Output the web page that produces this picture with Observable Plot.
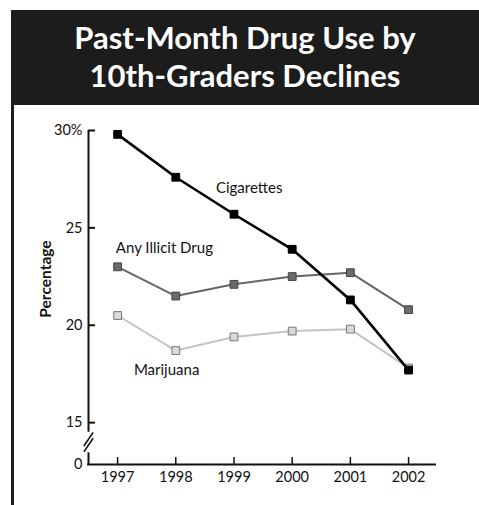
<!DOCTYPE html>
<html><head><meta charset="utf-8">
<script src="https://cdn.jsdelivr.net/npm/d3@7"></script>
<script src="https://cdn.jsdelivr.net/npm/@observablehq/plot@0.6"></script>
<style>
body{margin:0;background:#fff;width:479px;height:505px;position:relative;overflow:hidden;font-family:Lato,sans-serif}
#title{position:absolute;left:11px;top:10px;width:468px;height:95px;background:#1c1c1c;color:#fff;font:700 31px/38px Lato,sans-serif;text-align:center;box-sizing:border-box;padding-top:8px}
#frame{position:absolute;left:11px;top:105px;width:3px;height:400px;background:#1c1c1c}
#chart{position:absolute;left:0;top:105px}
#ylabel{position:absolute;left:45px;top:279px;transform:translate(-50%,-50%) rotate(-90deg);font:700 15.5px Lato,sans-serif;color:#111;white-space:nowrap}
</style></head><body>
<div id="title">Past-Month Drug Use by<br>10th-Graders Declines</div>
<div id="chart"></div><div id="frame"></div>
<div id="ylabel">Percentage</div>
<script>
const years = [1997, 1998, 1999, 2000, 2001, 2002];
const cigarettes = [29.8, 27.6, 25.7, 23.9, 21.3, 17.7];
const illicit = [23.0, 21.5, 22.1, 22.5, 22.7, 20.8];
const marijuana = [20.5, 18.7, 19.4, 19.7, 19.8, 17.8];
const yTicks = [15, 20, 25, 30];
const yTickLabels = ["15", "20", "25", "30%"];
const seriesNames = ["Cigarettes", "Any Illicit Drug", "Marijuana"];

const yBase = 12.85;      // value shown at the "0" (broken axis bottom)
const xStart = 1996.5;
const xEnd = 2002.48;

const rows = (vals) => years.map((year, i) => ({year, value: vals[i]}));
const cig = rows(cigarettes), ill = rows(illicit), mar = rows(marijuana);

const labels = [
  {name: seriesNames[0], year: 1998.69, value: 27.02},
  {name: seriesNames[1], year: 1996.97, value: 23.94},
  {name: seriesNames[2], year: 1997.28, value: 17.67}
];
const breaks = [
  {x1: xStart - 0.08, y1: 13.5, x2: xStart + 0.08, y2: 14.2},
  {x1: xStart - 0.08, y1: 13.8, x2: xStart + 0.08, y2: 14.5}
];

const chart = Plot.plot({
  width: 479, height: 400,
  marginLeft: 88, marginRight: 43, marginTop: 25, marginBottom: 41,
  style: {fontFamily: "Lato, sans-serif", fontSize: "14.5px", color: "#111", background: "transparent"},
  x: {domain: [xStart, xEnd]},
  y: {domain: [yBase, 30]},
  marks: [
    Plot.axisX({ticks: years, tickFormat: d => String(d), tickSize: 0, tickPadding: 7, fontSize: 14.5}),
    Plot.axisY({ticks: [yBase, ...yTicks], tickFormat: d => d === yBase ? "0" : yTickLabels[yTicks.indexOf(d)], tickSize: 0, tickPadding: 6, fontSize: 14.5}),
    Plot.ruleX([xStart], {y1: 30, y2: 14.5, stroke: "#111", strokeWidth: 2}),
    Plot.ruleX([xStart], {y1: 13.45, y2: yBase, stroke: "#111", strokeWidth: 2}),
    Plot.link(breaks, {x1: "x1", y1: "y1", x2: "x2", y2: "y2", stroke: "#111", strokeWidth: 1.6}),
    Plot.ruleY(yTicks, {y: d => d, x1: xStart, x2: xStart + 0.12, stroke: "#111", strokeWidth: 2}),
    Plot.ruleY([yBase], {x1: xStart - 0.015, x2: xEnd, stroke: "#111", strokeWidth: 2}),
    Plot.ruleX(years, {x: d => d, y1: yBase, y2: yBase + 0.36, stroke: "#111", strokeWidth: 1.5}),
    Plot.line(mar, {x: "year", y: "value", stroke: "#c4c4c4", strokeWidth: 2}),
    Plot.dot(mar, {x: "year", y: "value", symbol: "square", r: 4.4, fill: "#d9d9d9", stroke: "#777", strokeWidth: 1}),
    Plot.line(ill, {x: "year", y: "value", stroke: "#666", strokeWidth: 2}),
    Plot.dot(ill, {x: "year", y: "value", symbol: "square", r: 4.4, fill: "#6a6a6a", stroke: "#444", strokeWidth: 1}),
    Plot.line(cig, {x: "year", y: "value", stroke: "#000", strokeWidth: 2.6}),
    Plot.dot(cig, {x: "year", y: "value", symbol: "square", r: 4.4, fill: "#000", stroke: "#000", strokeWidth: 1}),
    Plot.text(labels, {x: "year", y: "value", text: "name", textAnchor: "start", fontSize: 15, fill: "#111"})
  ]
});
document.getElementById("chart").append(chart);
</script>
</body></html>
